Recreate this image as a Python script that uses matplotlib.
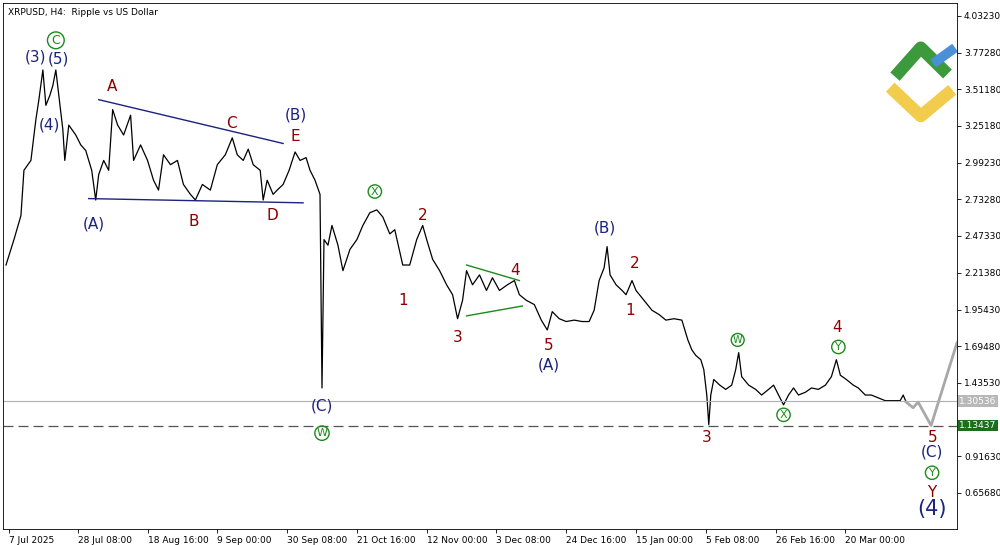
import matplotlib.pyplot as plt

# ----------------- data -----------------
x_pos = [0, 8, 15, 18, 25, 30, 33, 37, 40, 44, 47, 50, 53, 57, 59, 63, 70, 75, 80, 86,
         90, 93, 98, 103, 107, 112, 118, 125, 128, 135, 142, 148, 153, 158, 165, 172, 178, 185, 190, 197,
         205, 212, 220, 227, 232, 238, 243, 248, 255, 258, 262, 268, 272, 278, 284, 290, 295, 301, 305, 310,
         315, 317, 319, 323, 327, 333, 338, 345, 352, 358, 365, 372, 378, 385, 390, 398, 405, 412, 418, 422,
         428, 435, 442, 448, 453, 458, 462, 468, 475, 482, 488, 495, 503, 510, 515, 522, 530, 537, 543, 548,
         555, 562, 570, 578, 585, 590, 595, 600, 603, 606, 612, 618, 622, 628, 632, 640, 648, 655, 662, 670,
         678, 684, 688, 692, 697, 700, 703, 705, 707, 710, 716, 722, 728, 732, 735, 738, 745, 752, 758, 765,
         770, 775, 780, 785, 790, 795, 802, 808, 815, 822, 828, 833, 837, 843, 850, 855, 862, 868, 875, 882,
         890, 897, 900, 903]
price = [2.27, 2.45, 2.62, 2.94, 3.01, 3.30, 3.44, 3.65, 3.40, 3.47, 3.54, 3.65, 3.47, 3.23, 3.01, 3.26, 3.19, 3.12, 3.08, 2.94,
         2.73, 2.91, 3.01, 2.94, 3.37, 3.26, 3.19, 3.33, 3.01, 3.12, 3.01, 2.87, 2.80, 3.05, 2.98, 3.01, 2.84, 2.77, 2.73, 2.84,
         2.80, 2.98, 3.05, 3.17, 3.05, 3.01, 3.09, 2.98, 2.94, 2.73, 2.87, 2.77, 2.80, 2.84, 2.94, 3.07, 3.01, 3.03, 2.94, 2.87,
         2.77, 1.40, 2.45, 2.41, 2.55, 2.41, 2.23, 2.38, 2.45, 2.55, 2.64, 2.66, 2.61, 2.49, 2.52, 2.27, 2.27, 2.45, 2.55, 2.45,
         2.31, 2.23, 2.13, 2.06, 1.89, 2.02, 2.23, 2.13, 2.20, 2.09, 2.18, 2.09, 2.13, 2.16, 2.06, 2.02, 1.99, 1.88, 1.81, 1.94,
         1.89, 1.87, 1.88, 1.87, 1.87, 1.95, 2.16, 2.25, 2.40, 2.20, 2.13, 2.09, 2.06, 2.16, 2.09, 2.02, 1.95, 1.92, 1.88, 1.89,
         1.88, 1.74, 1.67, 1.63, 1.60, 1.53, 1.35, 1.14, 1.35, 1.46, 1.42, 1.39, 1.42, 1.53, 1.65, 1.48, 1.42, 1.39, 1.35, 1.39,
         1.42, 1.35, 1.28, 1.35, 1.40, 1.35, 1.37, 1.40, 1.39, 1.42, 1.48, 1.60, 1.49, 1.46, 1.42, 1.40, 1.35, 1.35, 1.33, 1.31,
         1.31, 1.31, 1.35, 1.30]

proj_x = [903, 910, 915, 928, 954]
proj_price = [1.30, 1.26, 1.30, 1.13437, 1.72]

price_ticks = [4.03230, 3.77280, 3.51330, 3.25380, 2.99430, 2.73480, 2.47530, 2.21380,
               1.95430, 1.69480, 1.43530, 1.17580, 0.91630, 0.65680]
price_labels = ["4.03230", "3.77280", "3.51180", "3.25180", "2.99230", "2.73280", "2.47330",
                "2.21380", "1.95430", "1.69480", "1.43530", "", "0.91630", "0.65680"]
date_x = [3, 72, 142, 212, 282, 352, 422, 492, 562, 632, 702, 772, 842]
date_labels = ["7 Jul 2025", "28 Jul 08:00", "18 Aug 16:00", "9 Sep 00:00", "30 Sep 08:00",
               "21 Oct 16:00", "12 Nov 00:00", "3 Dec 08:00", "24 Dec 16:00", "15 Jan 00:00",
               "5 Feb 08:00", "26 Feb 16:00", "20 Mar 00:00"]

current_price = 1.30536
target_price = 1.13437

NAVY = "#1a237e"
RED = "#8b0000"
GREEN = "#1b8a1b"

# (text, x, price, colour, size, circled)
wave_labels = [
    ("(3)", 30, 3.74, NAVY, 11, False), ("(5)", 53, 3.73, NAVY, 11, False),
    ("C", 50, 3.86, GREEN, 9, True), ("(4)", 44, 3.26, NAVY, 11, False),
    ("A", 106, 3.53, RED, 11, False), ("(A)", 88, 2.56, NAVY, 11, False),
    ("B", 188, 2.58, RED, 11, False), ("C", 226, 3.27, RED, 11, False),
    ("D", 267, 2.62, RED, 11, False), ("E", 290, 3.18, RED, 11, False),
    ("(B)", 291, 3.33, NAVY, 11, False), ("(C)", 317, 1.27, NAVY, 11, False),
    ("W", 317, 1.08, GREEN, 8, True), ("X", 370, 2.79, GREEN, 8, True),
    ("2", 418, 2.62, RED, 11, False), ("1", 398, 2.02, RED, 11, False),
    ("3", 453, 1.76, RED, 11, False), ("4", 511, 2.23, RED, 11, False),
    ("5", 544, 1.70, RED, 11, False), ("(A)", 545, 1.56, NAVY, 11, False),
    ("(B)", 601, 2.53, NAVY, 11, False), ("2", 631, 2.28, RED, 11, False),
    ("1", 626, 1.95, RED, 11, False), ("3", 703, 1.05, RED, 11, False),
    ("W", 734, 1.74, GREEN, 7, True), ("X", 780, 1.21, GREEN, 8, True),
    ("4", 834, 1.83, RED, 11, False), ("Y", 835, 1.69, GREEN, 8, True),
    ("5", 930, 1.05, RED, 11, False), ("(C)", 929, 0.95, NAVY, 11, False),
    ("Y", 929, 0.80, GREEN, 8, True), ("Y", 929, 0.66, RED, 11, False),
    ("(4)", 929, 0.54, NAVY, 15, False),
]

# ----------------- plot -----------------
fig = plt.figure(figsize=(10, 5.45), dpi=100)
ax = fig.add_axes([0.003, 16 / 545, 0.954, 526 / 545])
ax.set_xlim(-3, 954)
ax.set_ylim(0.402, 4.124)

ax.plot(x_pos, price, color="black", linewidth=0.9)
ax.plot(proj_x, proj_price, color="#a8a8a8", linewidth=2)
ax.axhline(current_price, color="#b0b0b0", linewidth=0.8)
ax.axhline(target_price, color="#555555", linewidth=0.9, linestyle=(0, (8, 4)))

# triangle boundaries
ax.plot([93, 278], [3.44, 3.13], color=NAVY, linewidth=1)
ax.plot([83, 298], [2.74, 2.71], color=NAVY, linewidth=1)
ax.plot([462, 515], [2.27, 2.16], color=GREEN, linewidth=1)
ax.plot([462, 518], [1.91, 1.98], color=GREEN, linewidth=1)

for text, x, y, col, size, circled in wave_labels:
    if circled:
        ax.text(x, y, text, color=col, fontsize=size, ha="center", va="center",
                bbox=dict(boxstyle="circle,pad=0.15", fc="none", ec=col, lw=1))
    else:
        ax.text(x, y, text, color=col, fontsize=size, ha="center", va="center")

ax.text(0.005, 0.99, "XRPUSD, H4:  Ripple vs US Dollar", transform=ax.transAxes,
        fontsize=6.5, va="top", ha="left")

# logo
ax.plot([0.935, 0.962, 0.99], [0.86, 0.915, 0.865], transform=ax.transAxes,
        color="#3c9a3c", linewidth=9, solid_capstyle="butt")
ax.plot([0.975, 0.998], [0.885, 0.915], transform=ax.transAxes,
        color="#4a90d9", linewidth=7, solid_capstyle="butt")
ax.plot([0.93, 0.962, 0.995], [0.84, 0.785, 0.835], transform=ax.transAxes,
        color="#f2cc4d", linewidth=9, solid_capstyle="butt")

ax.yaxis.tick_right()
ax.set_yticks(price_ticks)
ax.set_yticklabels(price_labels, fontsize=6.5)
ax.set_xticks(date_x)
ax.set_xticklabels(date_labels, fontsize=6.5, ha="left")
ax.tick_params(length=3, width=0.6, pad=2)
for s in ax.spines.values():
    s.set_linewidth(0.6)

for val, fc, tc in [(current_price, "#b8b8b8", "white"), (target_price, "#1b6e1b", "white")]:
    ax.text(1.002, val, f"{val:.5f}", transform=ax.get_yaxis_transform(), fontsize=6.5,
            color=tc, va="center", ha="left",
            bbox=dict(boxstyle="square,pad=0.15", fc=fc, ec="none"))

fig.savefig("out.png", dpi=100)
